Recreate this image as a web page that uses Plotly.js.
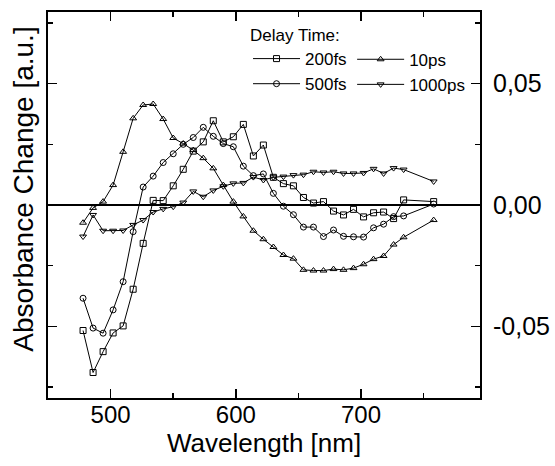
<!DOCTYPE html>
<html>
<head>
<meta charset="utf-8">
<script src="https://cdn.plot.ly/plotly-3.0.1.min.js"></script>
<style>html,body{margin:0;padding:0;background:#fff;}#chart{width:555px;height:466px;}</style>
</head>
<body>
<div id="chart"></div>
<script>
// Wavelengths (nm)
var wavelength = [478,486,494,502,510,518,526,534,542,550,558,566,574,582,590,598,606,614,622,630,638,646,654,662,670,678,686,694,702,710,718,726,734,758];

// Absorbance change for each delay time
var fs200 = [-0.0517,-0.0690,-0.0604,-0.0527,-0.0498,-0.0347,-0.0158,0.0019,0.0018,0.0079,0.0147,0.0222,0.0260,0.0347,0.0260,0.0281,0.0332,0.0202,0.0247,0.0114,0.0088,0.0079,0.0031,0.0008,0.0014,-0.0025,-0.0041,-0.0018,-0.0049,-0.0032,-0.0029,-0.0056,0.0021,0.0014];
var fs500 = [-0.0384,-0.0507,-0.0528,-0.0432,-0.0316,-0.0110,0.0074,0.0119,0.0175,0.0211,0.0250,0.0278,0.0320,0.0283,0.0253,0.0240,0.0160,0.0121,0.0128,0.0048,-0.0005,-0.0040,-0.0091,-0.0091,-0.0130,-0.0103,-0.0129,-0.0131,-0.0132,-0.0094,-0.0079,-0.0048,-0.0045,0.0004];
var ps10 = [-0.0073,-0.0012,0.0014,0.0082,0.0219,0.0357,0.0412,0.0416,0.0354,0.0276,0.0253,0.0226,0.0193,0.0151,0.0082,0.0014,-0.0047,-0.0106,-0.0141,-0.0173,-0.0206,-0.0221,-0.0267,-0.0270,-0.0270,-0.0264,-0.0267,-0.0260,-0.0244,-0.0223,-0.0210,-0.0163,-0.0133,-0.0062];
var ps1000 = [-0.0130,-0.0041,-0.0106,-0.0106,-0.0105,-0.0082,-0.0062,-0.0029,-0.0016,-0.0007,0.0010,0.0056,0.0034,0.0060,0.0077,0.0089,0.0091,0.0115,0.0103,0.0114,0.0117,0.0123,0.0125,0.0137,0.0134,0.0137,0.0130,0.0130,0.0132,0.0149,0.0130,0.0152,0.0146,0.0097];

// Axis tick labels
var yTickVals = [-0.05, 0, 0.05];
var yTickText = ['-0,05', '0,00', '0,05'];
var xTickVals = [500, 600, 700];
var xTickText = ['500', '600', '700'];

var FONT = 'Liberation Sans, Arial, Helvetica, sans-serif';

function series(name, y, symbol, legendId) {
  return {
    x: wavelength, y: y, name: name, type: 'scatter', mode: 'lines+markers',
    line: {color: '#000', width: 1},
    marker: {symbol: symbol, size: 6, color: '#000', line: {color: '#000', width: 1}},
    legend: legendId
  };
}

var data = [
  series('200fs', fs200, 'square-open', 'legend'),
  series('500fs', fs500, 'circle-open', 'legend'),
  series('10ps', ps10, 'triangle-up-open', 'legend2'),
  series('1000ps', ps1000, 'triangle-down-open', 'legend2')
];

var legendCommon = {
  font: {family: FONT, size: 17, color: '#000'},
  bgcolor: 'rgba(0,0,0,0)', borderwidth: 0,
  xanchor: 'left', yanchor: 'top', itemwidth: 47, tracegroupgap: 0
};

var layout = {
  width: 555, height: 466,
  margin: {l: 48, r: 75, t: 12, b: 68},
  paper_bgcolor: '#fff', plot_bgcolor: '#fff',
  font: {family: FONT, color: '#000'},
  showlegend: true,
  legend: Object.assign({}, legendCommon, {x: 0.463, y: 0.982, title: {text: 'Delay Time:', font: {family: FONT, size: 17, color: '#000'}}}),
  legend2: Object.assign({}, legendCommon, {x: 0.704, y: 0.923}),
  xaxis: {
    range: [450, 795], showgrid: false, zeroline: false,
    showline: true, linecolor: '#000', linewidth: 2, mirror: 'allticks',
    ticks: 'inside', ticklen: 9, tickwidth: 1.5, tickcolor: '#000',
    tickmode: 'array', tickvals: xTickVals, ticktext: xTickText,
    tickfont: {family: FONT, size: 24, color: '#000'},
    ticklabelstandoff: -6,
    minor: {ticks: 'inside', ticklen: 5, tickwidth: 1.5, tickcolor: '#000', tickmode: 'linear', tick0: 450, dtick: 50, showgrid: false}
  },
  yaxis: {
    range: [-0.0795, 0.0795], side: 'right', showgrid: false,
    zeroline: true, zerolinecolor: '#000', zerolinewidth: 2,
    showline: true, linecolor: '#000', linewidth: 2, mirror: 'allticks',
    ticks: 'inside', ticklen: 9, tickwidth: 1.5, tickcolor: '#000',
    tickmode: 'array', tickvals: yTickVals, ticktext: yTickText,
    tickfont: {family: FONT, size: 25, color: '#000'},
    ticklabelstandoff: 6,
    minor: {ticks: 'inside', ticklen: 5, tickwidth: 1.5, tickcolor: '#000', tickmode: 'linear', tick0: 0, dtick: 0.025, showgrid: false}
  },
  annotations: [{
    text: 'Absorbance Change [a.u.]', textangle: -90,
    xref: 'paper', yref: 'paper', x: -0.0567, y: 0.541, xanchor: 'center', yanchor: 'middle',
    showarrow: false, font: {family: FONT, size: 28, color: '#000'}
  }, {
    text: 'Wavelength [nm]',
    xref: 'paper', yref: 'paper', x: 0.5, y: -0.117, xanchor: 'center', yanchor: 'middle',
    showarrow: false, font: {family: FONT, size: 26, color: '#000'}
  }]
};

Plotly.newPlot('chart', data, layout, {displayModeBar: false, staticPlot: true});
</script>
</body>
</html>
